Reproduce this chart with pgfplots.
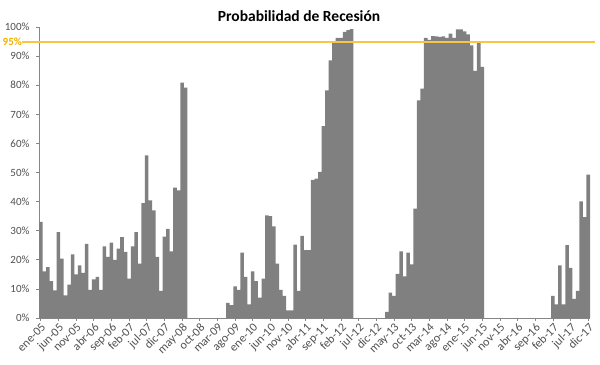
\documentclass[border=0pt]{standalone}
\usepackage{fontspec}
\setmainfont{Carlito}
\usepackage{pgfplots}
\pgfplotsset{compat=1.18}
\usepackage{pgfplotstable}
\definecolor{bargray}{RGB}{128,128,128}
\definecolor{threshcol}{RGB}{250,196,70}
\definecolor{goldtxt}{RGB}{240,176,0}
\definecolor{axgray}{RGB}{134,134,134}
\definecolor{txtgray}{RGB}{80,80,80}
\pgfplotstableread{
x y
0 33
1 16
2 17.5
3 12.7
4 9.5
5 29.5
6 20.4
7 7.8
8 11.5
9 21.9
10 15
11 18.1
12 15.5
13 25.5
14 9.7
15 13.3
16 14.1
17 9.7
18 24.6
19 21
20 25.9
21 20
22 23.8
23 27.8
24 22.7
25 13.5
26 24.6
27 29.5
28 18.7
29 39.5
30 55.9
31 40.4
32 37
33 21
34 9.3
35 28
36 30.6
37 22.9
38 44.8
39 43.9
40 80.9
41 79.2
42 0
43 0
44 0
45 0
46 0
47 0
48 0
49 0
50 0
51 0
52 0
53 5.2
54 4.4
55 10.9
56 9.7
57 22.5
58 14.1
59 4.7
60 16
61 12.7
62 7
63 13.5
64 35.3
65 35
66 31.5
67 18.7
68 9.7
69 7.6
70 2.6
71 2.6
72 25.2
73 9.3
74 28.2
75 23.3
76 23.3
77 47.5
78 47.9
79 50.2
80 65.9
81 78.2
82 88.5
83 94.5
84 96.3
85 96.3
86 98.3
87 98.9
88 99.3
89 0
90 0
91 0
92 0
93 0
94 0
95 0
96 0
97 0
98 2.1
99 8.7
100 7.6
101 15.2
102 22.9
103 14.3
104 22.5
105 18.4
106 37.6
107 74.8
108 78.8
109 96.3
110 95.6
111 96.9
112 96.8
113 96.6
114 96.8
115 96.3
116 97.7
117 96.3
118 99.2
119 99.2
120 98.5
121 97.5
122 93.7
123 84.9
124 94.8
125 86.3
126 0
127 0
128 0
129 0
130 0
131 0
132 0
133 0
134 0
135 0
136 0
137 0
138 0
139 0
140 0
141 0
142 0
143 0
144 0
145 7.6
146 4.7
147 18.1
148 4.7
149 25
150 17.2
151 6.6
152 9.3
153 40.1
154 34.7
155 49.3
}\datatable
\begin{document}
\begin{tikzpicture}
\begin{axis}[
  scale only axis, width=551bp, height=291bp,
  xmin=-0.5, xmax=155.5, ymin=0, ymax=100,
  axis x line*=bottom, axis y line*=left,
  axis line style={axgray, line width=0.8bp, -},
  tick align=outside, major tick length=3bp,
  tick style={axgray, line width=0.6bp},
  xtick={0,5,...,155},
  xticklabels={ene-05,jun-05,nov-05,abr-06,sep-06,feb-07,jul-07,dic-07,may-08,oct-08,mar-09,ago-09,ene-10,jun-10,nov-10,abr-11,sep-11,feb-12,jul-12,dic-12,may-13,oct-13,mar-14,ago-14,ene-15,jun-15,nov-15,abr-16,sep-16,feb-17,jul-17,dic-17},
  x tick label style={rotate=45, anchor=north east, inner sep=1bp, font=\fontsize{12bp}{14bp}\selectfont, text=txtgray},
  ytick={0,10,...,100},
  yticklabels={0\%,10\%,20\%,30\%,40\%,50\%,60\%,70\%,80\%,90\%,100\%},
  y tick label style={font=\fontsize{11bp}{13bp}\selectfont, text=txtgray, xshift=-3bp},
  clip=false,
]
\addplot[ybar, bar width=1, bar shift=0, fill=bargray, draw=none] table[x=x,y=y] {\datatable};
\draw[threshcol, line width=2bp] (axis cs:-5.3,95) -- (axis cs:157,95);
\node[anchor=east, inner sep=0pt, font=\bfseries\fontsize{11bp}{13bp}\selectfont, text=goldtxt] at (axis cs:-5.3,95) {95\%};
\node[anchor=base, inner sep=0pt, font=\bfseries\fontsize{15.5bp}{18bp}\selectfont] at (rel axis cs:0.5,1) [xshift=-15.5bp, yshift=5bp] {Probabilidad de Recesión};
\coordinate (bl) at (rel axis cs:0,0);
\end{axis}
\pgfresetboundingbox
\path (bl) ++(-39bp,-47bp) rectangle ++(600bp,365bp);
\end{tikzpicture}
\end{document}
